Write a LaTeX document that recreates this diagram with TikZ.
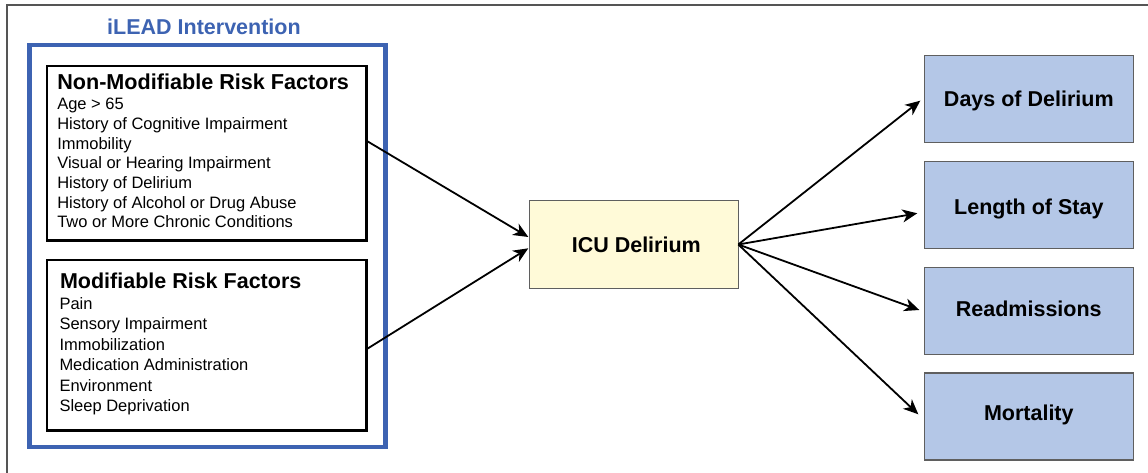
\documentclass[tikz,border=0pt]{standalone}
\usepackage{fontspec}
\setmainfont{Liberation Sans}
\usetikzlibrary{arrows.meta}
\definecolor{ileadblue}{RGB}{61,99,178}
\definecolor{icufill}{RGB}{255,250,216}
\definecolor{outfill}{RGB}{180,199,231}
\definecolor{boxgray}{RGB}{95,95,95}
\definecolor{framegray}{RGB}{85,85,85}
\begin{document}
\begin{tikzpicture}[x=1pt,y=-1pt,
  every node/.style={inner sep=0pt, outer sep=0pt},
  riskbox/.style={draw=black, line width=2.8pt, minimum width=319.5pt},
  outbox/.style={draw=boxgray, line width=1.3pt, fill=outfill, minimum width=209pt, minimum height=87pt,
    font=\fontsize{21.5}{25}\selectfont\bfseries, text height=15.4pt, text depth=0pt},
  icubox/.style={draw=boxgray, line width=1.3pt, fill=icufill, minimum width=209pt, minimum height=87.6pt,
    font=\fontsize{21.5}{25}\selectfont\bfseries, text height=15.4pt, text depth=0pt},
  titletxt/.style={font=\fontsize{21.6}{25}\selectfont\bfseries, anchor=base west},
  bodytxt/.style={font=\fontsize{16.5}{19}\selectfont, anchor=base west},
  conn/.style={line width=1.8pt, -{Stealth[length=15pt, width=13pt, inset=4.5pt]}},
]
\useasboundingbox (0,0) rectangle (1148,473);
% outer frame (partly visible)
\draw[framegray, line width=1.8pt] (7,473) -- (7,5) -- (1148,5);

% iLEAD intervention frame
\node[draw=ileadblue, line width=4.5pt, minimum width=356pt, minimum height=402pt] (ilead) at (207.5,246) {};
\node[font=\fontsize{21.5}{25}\selectfont\bfseries, text=ileadblue, anchor=base] (ileadtitle) at (204,34.5) {iLEAD Intervention};

% risk factor boxes
\node[riskbox, minimum height=174.5pt] (nm) at (206.75,153.25) {};
\node[riskbox, minimum height=170.5pt] (mod) at (206.75,345.25) {};

\node[titletxt] (nmtitle) at (57.3,90) {Non-Modifiable Risk Factors};
\foreach \t [count=\i from 0] in {Age > 65, History of Cognitive Impairment, Immobility,
  Visual or Hearing Impairment, History of Delirium, History of Alcohol or Drug Abuse,
  Two or More Chronic Conditions}
  \node[bodytxt] (nmline\i) at (57.3,{110+19.6*\i}) {\t};

\node[titletxt, font=\fontsize{21.5}{25}\selectfont\bfseries] (modtitle) at (60,288.5) {Modifiable Risk Factors};
\foreach \t [count=\i from 0] in {Pain, Sensory Impairment, Immobilization,
  Medication Administration, Environment, Sleep Deprivation}
  \node[bodytxt] (modline\i) at (59.5,{309+20.5*\i}) {\t};

% ICU delirium
\node[icubox] (icu) at (633.8,244.5) {\hspace*{5pt}ICU Delirium};

% outcomes
\node[outbox] (days) at (1028.8,99) {Days of Delirium};
\node[outbox, text height=19.4pt] (los) at (1028.8,205) {Length of Stay};
\node[outbox, text depth=4pt] (readm) at (1028.8,311) {Readmissions};
\node[outbox, text depth=8pt] (mort) at (1028.8,416.5) {Mortality};

% connectors
\draw[conn] ([yshift=12.5pt]nm.east) -- ([xshift=-1pt,yshift=7.5pt]icu.west);
\draw[conn] ([yshift=-4pt]mod.east) -- ([xshift=-1pt,yshift=-3.8pt]icu.west);
\draw[conn] (icu.east) -- ([xshift=-4pt,yshift=-1.7pt]days.west);
\draw[conn] (icu.east) -- ([xshift=-7pt,yshift=-8.3pt]los.west);
\draw[conn] (icu.east) -- ([xshift=-5pt,yshift=1pt]readm.west);
\draw[conn] (icu.east) -- ([xshift=-6pt,yshift=2.2pt]mort.west);
\end{tikzpicture}
\end{document}
